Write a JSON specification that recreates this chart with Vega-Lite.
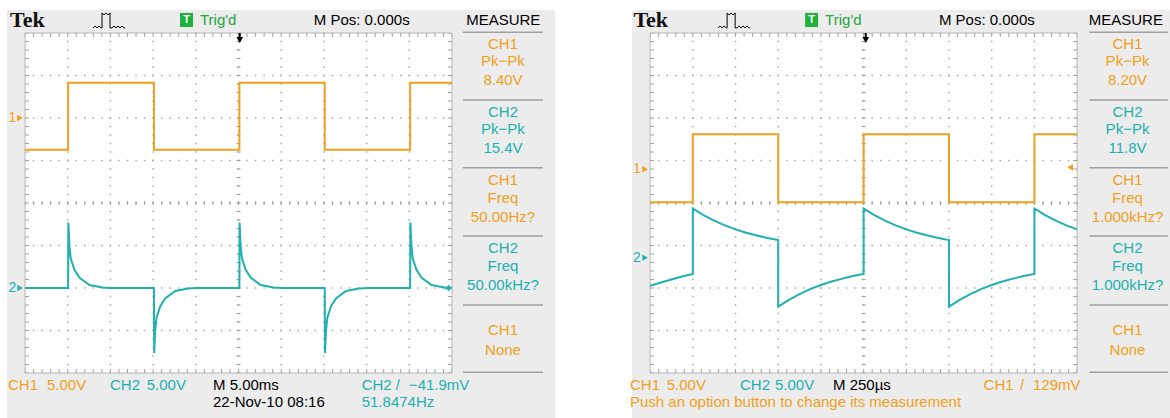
{
  "$schema": "https://vega.github.io/schema/vega-lite/v6.json",
  "width": 1170,
  "height": 418,
  "autosize": "none",
  "padding": 0,
  "background": "#ffffff",
  "config": {"view": {"stroke": null}},
  "datasets": {
    "panels": [
      {"x": -0.4215, "x2": 12.412, "y": 4.541, "y2": -5.059},
      {"x": 14.215, "x2": 26.815, "y": 4.541, "y2": -5.059}
    ],
    "grid": [
      {"x": 0, "x2": 10, "y": -4, "y2": 4},
      {"x": 14.64, "x2": 24.64, "y": -4, "y2": 4}
    ],
    "vdots": [
      {"x": 1, "x2": 1, "y": -4, "y2": 4}, {"x": 2, "x2": 2, "y": -4, "y2": 4}, {"x": 3, "x2": 3, "y": -4, "y2": 4},
      {"x": 4, "x2": 4, "y": -4, "y2": 4}, {"x": 5, "x2": 5, "y": -4, "y2": 4}, {"x": 6, "x2": 6, "y": -4, "y2": 4},
      {"x": 7, "x2": 7, "y": -4, "y2": 4}, {"x": 8, "x2": 8, "y": -4, "y2": 4}, {"x": 9, "x2": 9, "y": -4, "y2": 4},
      {"x": 15.64, "x2": 15.64, "y": -4, "y2": 4}, {"x": 16.64, "x2": 16.64, "y": -4, "y2": 4}, {"x": 17.64, "x2": 17.64, "y": -4, "y2": 4},
      {"x": 18.64, "x2": 18.64, "y": -4, "y2": 4}, {"x": 19.64, "x2": 19.64, "y": -4, "y2": 4}, {"x": 20.64, "x2": 20.64, "y": -4, "y2": 4},
      {"x": 21.64, "x2": 21.64, "y": -4, "y2": 4}, {"x": 22.64, "x2": 22.64, "y": -4, "y2": 4}, {"x": 23.64, "x2": 23.64, "y": -4, "y2": 4}
    ],
    "hdots": [
      {"x": 0, "x2": 10, "y": -3, "y2": -3}, {"x": 0, "x2": 10, "y": -2, "y2": -2}, {"x": 0, "x2": 10, "y": -1, "y2": -1},
      {"x": 0, "x2": 10, "y": 0, "y2": 0}, {"x": 0, "x2": 10, "y": 1, "y2": 1}, {"x": 0, "x2": 10, "y": 2, "y2": 2},
      {"x": 0, "x2": 10, "y": 3, "y2": 3},
      {"x": 14.64, "x2": 24.64, "y": -3, "y2": -3}, {"x": 14.64, "x2": 24.64, "y": -2, "y2": -2}, {"x": 14.64, "x2": 24.64, "y": -1, "y2": -1},
      {"x": 14.64, "x2": 24.64, "y": 0, "y2": 0}, {"x": 14.64, "x2": 24.64, "y": 1, "y2": 1}, {"x": 14.64, "x2": 24.64, "y": 2, "y2": 2},
      {"x": 14.64, "x2": 24.64, "y": 3, "y2": 3}
    ],
    "tickH": [
      {"x": 0, "x2": 10, "y": 0, "y2": 0}, {"x": 0, "x2": 10, "y": 3.953, "y2": 3.953}, {"x": 0, "x2": 10, "y": -3.953, "y2": -3.953},
      {"x": 14.64, "x2": 24.64, "y": 0, "y2": 0}, {"x": 14.64, "x2": 24.64, "y": 3.953, "y2": 3.953}, {"x": 14.64, "x2": 24.64, "y": -3.953, "y2": -3.953}
    ],
    "tickV": [
      {"x": 5, "x2": 5, "y": -4, "y2": 4}, {"x": 0.047, "x2": 0.047, "y": -4, "y2": 4}, {"x": 9.953, "x2": 9.953, "y": -4, "y2": 4},
      {"x": 19.64, "x2": 19.64, "y": -4, "y2": 4}, {"x": 14.687, "x2": 14.687, "y": -4, "y2": 4}, {"x": 24.593, "x2": 24.593, "y": -4, "y2": 4}
    ],
    "traces": [
      {"s": "L1", "ch": "ch1", "x": 0, "y": 1.25}, {"s": "L1", "ch": "ch1", "x": 1.01, "y": 1.25}, {"s": "L1", "ch": "ch1", "x": 1.01, "y": 2.83},
      {"s": "L1", "ch": "ch1", "x": 3.02, "y": 2.83}, {"s": "L1", "ch": "ch1", "x": 3.02, "y": 1.25}, {"s": "L1", "ch": "ch1", "x": 5.02, "y": 1.25},
      {"s": "L1", "ch": "ch1", "x": 5.02, "y": 2.83}, {"s": "L1", "ch": "ch1", "x": 7.02, "y": 2.83}, {"s": "L1", "ch": "ch1", "x": 7.02, "y": 1.25},
      {"s": "L1", "ch": "ch1", "x": 9.02, "y": 1.25}, {"s": "L1", "ch": "ch1", "x": 9.02, "y": 2.83}, {"s": "L1", "ch": "ch1", "x": 10, "y": 2.83},

      {"s": "L2", "ch": "ch2", "x": 0, "y": -2.0}, {"s": "L2", "ch": "ch2", "x": 1.01, "y": -2.0}, {"s": "L2", "ch": "ch2", "x": 1.015, "y": -0.46},
      {"s": "L2", "ch": "ch2", "x": 1.04, "y": -1.0}, {"s": "L2", "ch": "ch2", "x": 1.07, "y": -1.3}, {"s": "L2", "ch": "ch2", "x": 1.16, "y": -1.58},
      {"s": "L2", "ch": "ch2", "x": 1.28, "y": -1.76}, {"s": "L2", "ch": "ch2", "x": 1.51, "y": -1.93}, {"s": "L2", "ch": "ch2", "x": 1.81, "y": -1.99},
      {"s": "L2", "ch": "ch2", "x": 2.01, "y": -2.0}, {"s": "L2", "ch": "ch2", "x": 3.02, "y": -2.0}, {"s": "L2", "ch": "ch2", "x": 3.025, "y": -3.53},
      {"s": "L2", "ch": "ch2", "x": 3.05, "y": -3.0}, {"s": "L2", "ch": "ch2", "x": 3.08, "y": -2.7}, {"s": "L2", "ch": "ch2", "x": 3.17, "y": -2.42},
      {"s": "L2", "ch": "ch2", "x": 3.29, "y": -2.24}, {"s": "L2", "ch": "ch2", "x": 3.52, "y": -2.07}, {"s": "L2", "ch": "ch2", "x": 3.82, "y": -2.01},
      {"s": "L2", "ch": "ch2", "x": 4.02, "y": -2.0}, {"s": "L2", "ch": "ch2", "x": 5.02, "y": -2.0}, {"s": "L2", "ch": "ch2", "x": 5.025, "y": -0.46},
      {"s": "L2", "ch": "ch2", "x": 5.05, "y": -1.0}, {"s": "L2", "ch": "ch2", "x": 5.08, "y": -1.3}, {"s": "L2", "ch": "ch2", "x": 5.17, "y": -1.58},
      {"s": "L2", "ch": "ch2", "x": 5.29, "y": -1.76}, {"s": "L2", "ch": "ch2", "x": 5.52, "y": -1.93}, {"s": "L2", "ch": "ch2", "x": 5.82, "y": -1.99},
      {"s": "L2", "ch": "ch2", "x": 6.02, "y": -2.0}, {"s": "L2", "ch": "ch2", "x": 7.02, "y": -2.0}, {"s": "L2", "ch": "ch2", "x": 7.025, "y": -3.53},
      {"s": "L2", "ch": "ch2", "x": 7.05, "y": -3.0}, {"s": "L2", "ch": "ch2", "x": 7.08, "y": -2.7}, {"s": "L2", "ch": "ch2", "x": 7.17, "y": -2.42},
      {"s": "L2", "ch": "ch2", "x": 7.29, "y": -2.24}, {"s": "L2", "ch": "ch2", "x": 7.52, "y": -2.07}, {"s": "L2", "ch": "ch2", "x": 7.82, "y": -2.01},
      {"s": "L2", "ch": "ch2", "x": 8.02, "y": -2.0}, {"s": "L2", "ch": "ch2", "x": 9.02, "y": -2.0}, {"s": "L2", "ch": "ch2", "x": 9.025, "y": -0.46},
      {"s": "L2", "ch": "ch2", "x": 9.05, "y": -1.0}, {"s": "L2", "ch": "ch2", "x": 9.08, "y": -1.3}, {"s": "L2", "ch": "ch2", "x": 9.17, "y": -1.58},
      {"s": "L2", "ch": "ch2", "x": 9.29, "y": -1.76}, {"s": "L2", "ch": "ch2", "x": 9.52, "y": -1.93}, {"s": "L2", "ch": "ch2", "x": 9.82, "y": -1.99},
      {"s": "L2", "ch": "ch2", "x": 10, "y": -2.0},

      {"s": "R1", "ch": "ch1", "x": 14.64, "y": 0.02}, {"s": "R1", "ch": "ch1", "x": 15.64, "y": 0.02}, {"s": "R1", "ch": "ch1", "x": 15.64, "y": 1.62},
      {"s": "R1", "ch": "ch1", "x": 17.64, "y": 1.62}, {"s": "R1", "ch": "ch1", "x": 17.64, "y": 0.02}, {"s": "R1", "ch": "ch1", "x": 19.64, "y": 0.02},
      {"s": "R1", "ch": "ch1", "x": 19.64, "y": 1.62}, {"s": "R1", "ch": "ch1", "x": 21.64, "y": 1.62}, {"s": "R1", "ch": "ch1", "x": 21.64, "y": 0.02},
      {"s": "R1", "ch": "ch1", "x": 23.64, "y": 0.02}, {"s": "R1", "ch": "ch1", "x": 23.64, "y": 1.62}, {"s": "R1", "ch": "ch1", "x": 24.64, "y": 1.62},

      {"s": "R2", "ch": "ch2", "x": 14.64, "y": -1.95}, {"s": "R2", "ch": "ch2", "x": 14.89, "y": -1.87}, {"s": "R2", "ch": "ch2", "x": 15.14, "y": -1.8},
      {"s": "R2", "ch": "ch2", "x": 15.39, "y": -1.73}, {"s": "R2", "ch": "ch2", "x": 15.64, "y": -1.67}, {"s": "R2", "ch": "ch2", "x": 15.64, "y": -0.13},
      {"s": "R2", "ch": "ch2", "x": 15.89, "y": -0.285}, {"s": "R2", "ch": "ch2", "x": 16.14, "y": -0.416}, {"s": "R2", "ch": "ch2", "x": 16.39, "y": -0.527},
      {"s": "R2", "ch": "ch2", "x": 16.64, "y": -0.62}, {"s": "R2", "ch": "ch2", "x": 16.89, "y": -0.699}, {"s": "R2", "ch": "ch2", "x": 17.14, "y": -0.766},
      {"s": "R2", "ch": "ch2", "x": 17.39, "y": -0.822}, {"s": "R2", "ch": "ch2", "x": 17.64, "y": -0.87}, {"s": "R2", "ch": "ch2", "x": 17.64, "y": -2.44},
      {"s": "R2", "ch": "ch2", "x": 17.89, "y": -2.279}, {"s": "R2", "ch": "ch2", "x": 18.14, "y": -2.143}, {"s": "R2", "ch": "ch2", "x": 18.39, "y": -2.027},
      {"s": "R2", "ch": "ch2", "x": 18.64, "y": -1.93}, {"s": "R2", "ch": "ch2", "x": 18.89, "y": -1.848}, {"s": "R2", "ch": "ch2", "x": 19.14, "y": -1.779},
      {"s": "R2", "ch": "ch2", "x": 19.39, "y": -1.72}, {"s": "R2", "ch": "ch2", "x": 19.64, "y": -1.67}, {"s": "R2", "ch": "ch2", "x": 19.64, "y": -0.13},
      {"s": "R2", "ch": "ch2", "x": 19.89, "y": -0.285}, {"s": "R2", "ch": "ch2", "x": 20.14, "y": -0.416}, {"s": "R2", "ch": "ch2", "x": 20.39, "y": -0.527},
      {"s": "R2", "ch": "ch2", "x": 20.64, "y": -0.62}, {"s": "R2", "ch": "ch2", "x": 20.89, "y": -0.699}, {"s": "R2", "ch": "ch2", "x": 21.14, "y": -0.766},
      {"s": "R2", "ch": "ch2", "x": 21.39, "y": -0.822}, {"s": "R2", "ch": "ch2", "x": 21.64, "y": -0.87}, {"s": "R2", "ch": "ch2", "x": 21.64, "y": -2.44},
      {"s": "R2", "ch": "ch2", "x": 21.89, "y": -2.279}, {"s": "R2", "ch": "ch2", "x": 22.14, "y": -2.143}, {"s": "R2", "ch": "ch2", "x": 22.39, "y": -2.027},
      {"s": "R2", "ch": "ch2", "x": 22.64, "y": -1.93}, {"s": "R2", "ch": "ch2", "x": 22.89, "y": -1.848}, {"s": "R2", "ch": "ch2", "x": 23.14, "y": -1.779},
      {"s": "R2", "ch": "ch2", "x": 23.39, "y": -1.72}, {"s": "R2", "ch": "ch2", "x": 23.64, "y": -1.67}, {"s": "R2", "ch": "ch2", "x": 23.64, "y": -0.13},
      {"s": "R2", "ch": "ch2", "x": 23.89, "y": -0.285}, {"s": "R2", "ch": "ch2", "x": 24.14, "y": -0.416}, {"s": "R2", "ch": "ch2", "x": 24.39, "y": -0.527},
      {"s": "R2", "ch": "ch2", "x": 24.64, "y": -0.62}
    ],
    "measLines": [
      {"x": 10.258, "x2": 12.131, "y": 4.016}, {"x": 10.258, "x2": 12.131, "y": 2.424}, {"x": 10.258, "x2": 12.131, "y": 0.831},
      {"x": 10.258, "x2": 12.131, "y": -0.776}, {"x": 10.258, "x2": 12.131, "y": -2.4}, {"x": 10.258, "x2": 12.131, "y": -3.984},
      {"x": 24.928, "x2": 26.764, "y": 4.016}, {"x": 24.928, "x2": 26.764, "y": 2.424}, {"x": 24.928, "x2": 26.764, "y": 0.831},
      {"x": 24.928, "x2": 26.764, "y": -0.776}, {"x": 24.928, "x2": 26.764, "y": -2.4}, {"x": 24.928, "x2": 26.764, "y": -3.984}
    ],
    "icon": [
      {"s": "L", "x": 1.593, "y": 4.118}, {"s": "L", "x": 1.639, "y": 4.165}, {"s": "L", "x": 1.686, "y": 4.118}, {"s": "L", "x": 1.733, "y": 4.165},
      {"s": "L", "x": 1.78, "y": 4.118}, {"s": "L", "x": 1.803, "y": 4.118}, {"s": "L", "x": 1.803, "y": 4.471}, {"s": "L", "x": 1.85, "y": 4.424},
      {"s": "L", "x": 1.897, "y": 4.471}, {"s": "L", "x": 1.944, "y": 4.424}, {"s": "L", "x": 1.991, "y": 4.471}, {"s": "L", "x": 1.991, "y": 4.118},
      {"s": "L", "x": 2.037, "y": 4.118}, {"s": "L", "x": 2.084, "y": 4.165}, {"s": "L", "x": 2.131, "y": 4.118}, {"s": "L", "x": 2.178, "y": 4.165},
      {"s": "L", "x": 2.225, "y": 4.118}, {"s": "L", "x": 2.272, "y": 4.165}, {"s": "L", "x": 2.319, "y": 4.118}, {"s": "L", "x": 2.342, "y": 4.118},
      {"s": "R", "x": 16.233, "y": 4.118}, {"s": "R", "x": 16.279, "y": 4.165}, {"s": "R", "x": 16.326, "y": 4.118}, {"s": "R", "x": 16.373, "y": 4.165},
      {"s": "R", "x": 16.42, "y": 4.118}, {"s": "R", "x": 16.443, "y": 4.118}, {"s": "R", "x": 16.443, "y": 4.471}, {"s": "R", "x": 16.49, "y": 4.424},
      {"s": "R", "x": 16.537, "y": 4.471}, {"s": "R", "x": 16.584, "y": 4.424}, {"s": "R", "x": 16.631, "y": 4.471}, {"s": "R", "x": 16.631, "y": 4.118},
      {"s": "R", "x": 16.677, "y": 4.118}, {"s": "R", "x": 16.724, "y": 4.165}, {"s": "R", "x": 16.771, "y": 4.118}, {"s": "R", "x": 16.818, "y": 4.165},
      {"s": "R", "x": 16.865, "y": 4.118}, {"s": "R", "x": 16.912, "y": 4.165}, {"s": "R", "x": 16.959, "y": 4.118}, {"s": "R", "x": 16.982, "y": 4.118}
    ],
    "greenBox": [
      {"x": 3.63, "x2": 3.934, "y": 4.471, "y2": 4.141},
      {"x": 18.27, "x2": 18.574, "y": 4.471, "y2": 4.141}
    ],
    "trigStem": [
      {"x": 5.03, "y": 4.0, "y2": 3.88},
      {"x": 19.69, "y": 4.0, "y2": 3.88}
    ],
    "trigPos": [
      {"x": 5.03, "y": 3.835},
      {"x": 19.69, "y": 3.835}
    ],
    "chMarkers": [
      {"x": -0.117, "y": 2.0, "ch": "ch1"}, {"x": -0.117, "y": -2.0, "ch": "ch2"},
      {"x": 14.523, "y": 0.793, "ch": "ch1"}, {"x": 14.523, "y": -1.287, "ch": "ch2"}
    ],
    "trigLevel": [
      {"x": 9.883, "y": -2.0, "ch": "ch2"},
      {"x": 24.476, "y": 0.84, "ch": "ch1"}
    ],
    "chNums": [
      {"x": -0.297, "y": 2.0, "text": "1", "ch": "ch1"}, {"x": -0.297, "y": -2.0, "text": "2", "ch": "ch2"},
      {"x": 14.329, "y": 0.793, "text": "1", "ch": "ch1"}, {"x": 14.329, "y": -1.287, "text": "2", "ch": "ch2"}
    ],
    "centerTexts": [
      {"x": 7.885, "y": 4.294, "text": "M Pos: 0.000s", "ch": "k"},
      {"x": 11.201, "y": 4.294, "text": "MEASURE", "ch": "k"},
      {"x": 11.194, "y": 3.729, "text": "CH1", "ch": "ch1"},
      {"x": 11.194, "y": 3.336, "text": "Pk−Pk", "ch": "ch1"},
      {"x": 11.194, "y": 2.894, "text": "8.40V", "ch": "ch1"},
      {"x": 11.194, "y": 2.141, "text": "CH2", "ch": "ch2"},
      {"x": 11.194, "y": 1.734, "text": "Pk−Pk", "ch": "ch2"},
      {"x": 11.194, "y": 1.301, "text": "15.4V", "ch": "ch2"},
      {"x": 11.194, "y": 0.534, "text": "CH1", "ch": "ch1"},
      {"x": 11.194, "y": 0.125, "text": "Freq", "ch": "ch1"},
      {"x": 11.194, "y": -0.322, "text": "50.00Hz?", "ch": "ch1"},
      {"x": 11.194, "y": -1.066, "text": "CH2", "ch": "ch2"},
      {"x": 11.194, "y": -1.482, "text": "Freq", "ch": "ch2"},
      {"x": 11.194, "y": -1.929, "text": "50.00kHz?", "ch": "ch2"},
      {"x": 11.194, "y": -2.995, "text": "CH1", "ch": "ch1"},
      {"x": 11.194, "y": -3.452, "text": "None", "ch": "ch1"},
      {"x": 22.525, "y": 4.294, "text": "M Pos: 0.000s", "ch": "k"},
      {"x": 25.78, "y": 4.294, "text": "MEASURE", "ch": "k"},
      {"x": 25.82, "y": 3.729, "text": "CH1", "ch": "ch1"},
      {"x": 25.82, "y": 3.336, "text": "Pk−Pk", "ch": "ch1"},
      {"x": 25.82, "y": 2.894, "text": "8.20V", "ch": "ch1"},
      {"x": 25.82, "y": 2.141, "text": "CH2", "ch": "ch2"},
      {"x": 25.82, "y": 1.734, "text": "Pk−Pk", "ch": "ch2"},
      {"x": 25.82, "y": 1.301, "text": "11.8V", "ch": "ch2"},
      {"x": 25.82, "y": 0.534, "text": "CH1", "ch": "ch1"},
      {"x": 25.82, "y": 0.125, "text": "Freq", "ch": "ch1"},
      {"x": 25.82, "y": -0.322, "text": "1.000kHz?", "ch": "ch1"},
      {"x": 25.82, "y": -1.066, "text": "CH2", "ch": "ch2"},
      {"x": 25.82, "y": -1.482, "text": "Freq", "ch": "ch2"},
      {"x": 25.82, "y": -1.929, "text": "1.000kHz?", "ch": "ch2"},
      {"x": 25.82, "y": -2.995, "text": "CH1", "ch": "ch1"},
      {"x": 25.82, "y": -3.452, "text": "None", "ch": "ch1"}
    ],
    "leftTexts": [
      {"x": 4.098, "y": 4.294, "text": "Trig'd", "ch": "g"},
      {"x": 18.738, "y": 4.294, "text": "Trig'd", "ch": "g"},
      {"x": -0.398, "y": -4.282, "text": "CH1", "ch": "ch1"},
      {"x": 0.515, "y": -4.282, "text": "5.00V", "ch": "ch1"},
      {"x": 1.991, "y": -4.282, "text": "CH2", "ch": "ch2"},
      {"x": 2.85, "y": -4.282, "text": "5.00V", "ch": "ch2"},
      {"x": 4.403, "y": -4.282, "text": "M 5.00ms", "ch": "k"},
      {"x": 7.885, "y": -4.282, "text": "CH2", "ch": "ch2"},
      {"x": 8.68, "y": -4.282, "text": "/", "ch": "ch2"},
      {"x": 8.99, "y": -4.282, "text": "−41.9mV", "ch": "ch2"},
      {"x": 4.403, "y": -4.694, "text": "22-Nov-10 08:16", "ch": "k"},
      {"x": 7.885, "y": -4.694, "text": "51.8474Hz", "ch": "ch2"},
      {"x": 14.169, "y": -4.282, "text": "CH1", "ch": "ch1"},
      {"x": 15.028, "y": -4.282, "text": "5.00V", "ch": "ch1"},
      {"x": 16.745, "y": -4.282, "text": "CH2", "ch": "ch2"},
      {"x": 17.564, "y": -4.282, "text": "5.00V", "ch": "ch2"},
      {"x": 18.923, "y": -4.282, "text": "M 250µs", "ch": "k"},
      {"x": 22.45, "y": -4.282, "text": "CH1", "ch": "ch1"},
      {"x": 23.3, "y": -4.282, "text": "/", "ch": "ch1"},
      {"x": 23.607, "y": -4.282, "text": "129mV", "ch": "ch1"},
      {"x": 14.169, "y": -4.694, "text": "Push an option button to change its measurement", "ch": "ch1"}
    ],
    "tek": [
      {"x": -0.351, "y": 4.306, "text": "Tek"},
      {"x": 14.249, "y": 4.306, "text": "Tek"}
    ],
    "tLetter": [
      {"x": 3.782, "y": 4.306, "text": "T"},
      {"x": 18.422, "y": 4.306, "text": "T"}
    ]
  },
  "encoding": {
    "x": {"field": "x", "type": "quantitative", "scale": {"domain": [-0.5855, 26.815], "nice": false, "zero": false}, "axis": null},
    "y": {"field": "y", "type": "quantitative", "scale": {"domain": [-5.059, 4.776], "nice": false, "zero": false}, "axis": null}
  },
  "layer": [
    {"data": {"name": "panels"}, "mark": {"type": "rect", "fill": "#ececec"},
     "encoding": {"x2": {"field": "x2"}, "y2": {"field": "y2"}}},
    {"data": {"name": "grid"}, "mark": {"type": "rect", "fill": "#ffffff", "stroke": "#b8b8b8", "strokeWidth": 1},
     "encoding": {"x2": {"field": "x2"}, "y2": {"field": "y2"}}},
    {"data": {"name": "vdots"}, "mark": {"type": "rule", "color": "#a8a8a8", "strokeWidth": 1.5, "strokeDash": [1.5, 7.0], "strokeDashOffset": 0.75},
     "encoding": {"x2": {"field": "x2"}, "y2": {"field": "y2"}}},
    {"data": {"name": "hdots"}, "mark": {"type": "rule", "color": "#a8a8a8", "strokeWidth": 1.5, "strokeDash": [1.5, 7.04], "strokeDashOffset": 0.75},
     "encoding": {"x2": {"field": "x2"}, "y2": {"field": "y2"}}},
    {"data": {"name": "tickH"}, "mark": {"type": "rule", "color": "#a0a0a0", "strokeWidth": 4, "strokeDash": [1, 7.54], "strokeDashOffset": 0.5},
     "encoding": {"x2": {"field": "x2"}, "y2": {"field": "y2"}}},
    {"data": {"name": "tickV"}, "mark": {"type": "rule", "color": "#a0a0a0", "strokeWidth": 4, "strokeDash": [1, 7.5], "strokeDashOffset": 0.5},
     "encoding": {"x2": {"field": "x2"}, "y2": {"field": "y2"}}},
    {"data": {"name": "traces"}, "mark": {"type": "line", "strokeWidth": 2},
     "encoding": {
       "detail": {"field": "s"},
       "order": {"value": null},
       "color": {"field": "ch", "type": "nominal", "scale": {"domain": ["ch1", "ch2", "k", "g"], "range": ["#f0a020", "#20b0b0", "#000000", "#22a83c"]}, "legend": null}
     }},
    {"data": {"name": "measLines"}, "mark": {"type": "rule", "color": "#a0a0a0", "strokeWidth": 1.5},
     "encoding": {"x2": {"field": "x2"}}},
    {"data": {"name": "icon"}, "mark": {"type": "line", "color": "#000000", "strokeWidth": 1},
     "encoding": {"detail": {"field": "s"}, "order": {"value": null}}},
    {"data": {"name": "greenBox"}, "mark": {"type": "rect", "fill": "#20b040"},
     "encoding": {"x2": {"field": "x2"}, "y2": {"field": "y2"}}},
    {"data": {"name": "trigStem"}, "mark": {"type": "rule", "color": "#000000", "strokeWidth": 2},
     "encoding": {"y2": {"field": "y2"}}},
    {"data": {"name": "trigPos"}, "mark": {"type": "point", "shape": "triangle-down", "filled": true, "color": "#000000", "size": 45, "opacity": 1}},
    {"data": {"name": "chMarkers"}, "mark": {"type": "point", "shape": "triangle-right", "filled": true, "size": 40, "opacity": 1},
     "encoding": {"color": {"field": "ch", "type": "nominal", "scale": {"domain": ["ch1", "ch2", "k", "g"], "range": ["#f0a020", "#20b0b0", "#000000", "#22a83c"]}, "legend": null}}},
    {"data": {"name": "trigLevel"}, "mark": {"type": "point", "shape": "triangle-left", "filled": true, "size": 45, "opacity": 1},
     "encoding": {"color": {"field": "ch", "type": "nominal", "scale": {"domain": ["ch1", "ch2", "k", "g"], "range": ["#f0a020", "#20b0b0", "#000000", "#22a83c"]}, "legend": null}}},
    {"data": {"name": "chNums"}, "mark": {"type": "text", "font": "Liberation Sans", "fontSize": 14, "align": "center", "baseline": "middle"},
     "encoding": {"text": {"field": "text"}, "color": {"field": "ch", "type": "nominal", "scale": {"domain": ["ch1", "ch2", "k", "g"], "range": ["#f0a020", "#20b0b0", "#000000", "#22a83c"]}, "legend": null}}},
    {"data": {"name": "centerTexts"}, "mark": {"type": "text", "font": "Liberation Sans", "fontSize": 15, "align": "center", "baseline": "middle"},
     "encoding": {"text": {"field": "text"}, "color": {"field": "ch", "type": "nominal", "scale": {"domain": ["ch1", "ch2", "k", "g"], "range": ["#f0a020", "#20b0b0", "#000000", "#22a83c"]}, "legend": null}}},
    {"data": {"name": "leftTexts"}, "mark": {"type": "text", "font": "Liberation Sans", "fontSize": 15, "align": "left", "baseline": "middle"},
     "encoding": {"text": {"field": "text"}, "color": {"field": "ch", "type": "nominal", "scale": {"domain": ["ch1", "ch2", "k", "g"], "range": ["#f0a020", "#20b0b0", "#000000", "#22a83c"]}, "legend": null}}},
    {"data": {"name": "tek"}, "mark": {"type": "text", "font": "Liberation Serif", "fontWeight": "bold", "fontSize": 22, "align": "left", "baseline": "middle", "color": "#111111"},
     "encoding": {"text": {"field": "text"}}},
    {"data": {"name": "tLetter"}, "mark": {"type": "text", "font": "Liberation Sans", "fontWeight": "bold", "fontSize": 11, "align": "center", "baseline": "middle", "color": "#ffffff"},
     "encoding": {"text": {"field": "text"}}}
  ]
}
